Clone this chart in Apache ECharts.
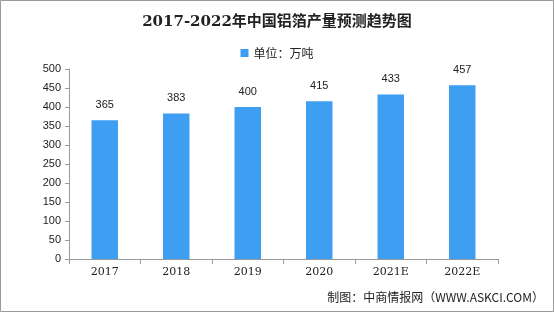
<!DOCTYPE html>
<html><head><meta charset="utf-8">
<script src="https://cdn.jsdelivr.net/npm/echarts@6/dist/echarts.min.js"></script>
<style>html,body{margin:0;padding:0;background:#fff}#c{width:554px;height:313px}</style>
</head><body><div id="c"></div>
<script>
const categories = ['2017','2018','2019','2020','2021E','2022E'];
const values = [365, 383, 400, 415, 433, 457];
const yTicks = [0,50,100,150,200,250,300,350,400,450,500];
const seriesName = '单位：万吨';
const titleText = '2017-2022年中国铝箔产量预测趋势图';
const sourceText = '制图：中商情报网（WWW.ASKCI.COM）';

const chart = echarts.init(document.getElementById('c'), null, {renderer:'canvas'});
chart.setOption({
  animation:false,
  backgroundColor:'#fff',
  title:{text:titleText,left:'center',top:10,
    textStyle:{fontFamily:'"DejaVu Serif", "Noto Sans CJK SC", serif',fontSize:15,fontWeight:'bold',color:'#222'}},
  legend:{data:[seriesName],top:42,left:'center',itemWidth:8,itemHeight:8,itemGap:4,icon:'rect',
    textStyle:{fontFamily:'"Noto Sans CJK SC", sans-serif',fontSize:12,color:'#222'}},
  grid:{left:69,right:56,top:69,bottom:54,containLabel:false},
  xAxis:{type:'category',data:categories,
    axisLine:{lineStyle:{color:'#999'}},
    axisTick:{show:true,alignWithLabel:false,length:5,lineStyle:{color:'#999'}},
    axisLabel:{color:'#222',fontSize:11,fontFamily:'"DejaVu Serif", serif',margin:8}},
  yAxis:{type:'value',min:0,max:500,interval:50,
    axisLine:{show:true,lineStyle:{color:'#999'}},
    axisTick:{show:true,length:4,lineStyle:{color:'#999'}},
    splitLine:{show:false},
    axisLabel:{color:'#222',fontSize:11,fontFamily:'"Liberation Sans", Arial, sans-serif',margin:8}},
  series:[{name:seriesName,type:'bar',data:values,barWidth:'37%',
    itemStyle:{color:'#3E9EF2'},
    label:{show:true,position:'top',distance:10,color:'#222',fontSize:11,fontFamily:'"Liberation Sans", Arial, sans-serif'}}],
  graphic:[
    {type:'rect',shape:{x:0.5,y:0.5,width:553,height:311},style:{fill:'none',stroke:'#999',lineWidth:1},silent:true},
    {type:'text',right:10,top:291,style:{text:sourceText,fontSize:12,fill:'#222',fontFamily:'"Noto Sans CJK SC", sans-serif'}}
  ]
});
</script></body></html>
